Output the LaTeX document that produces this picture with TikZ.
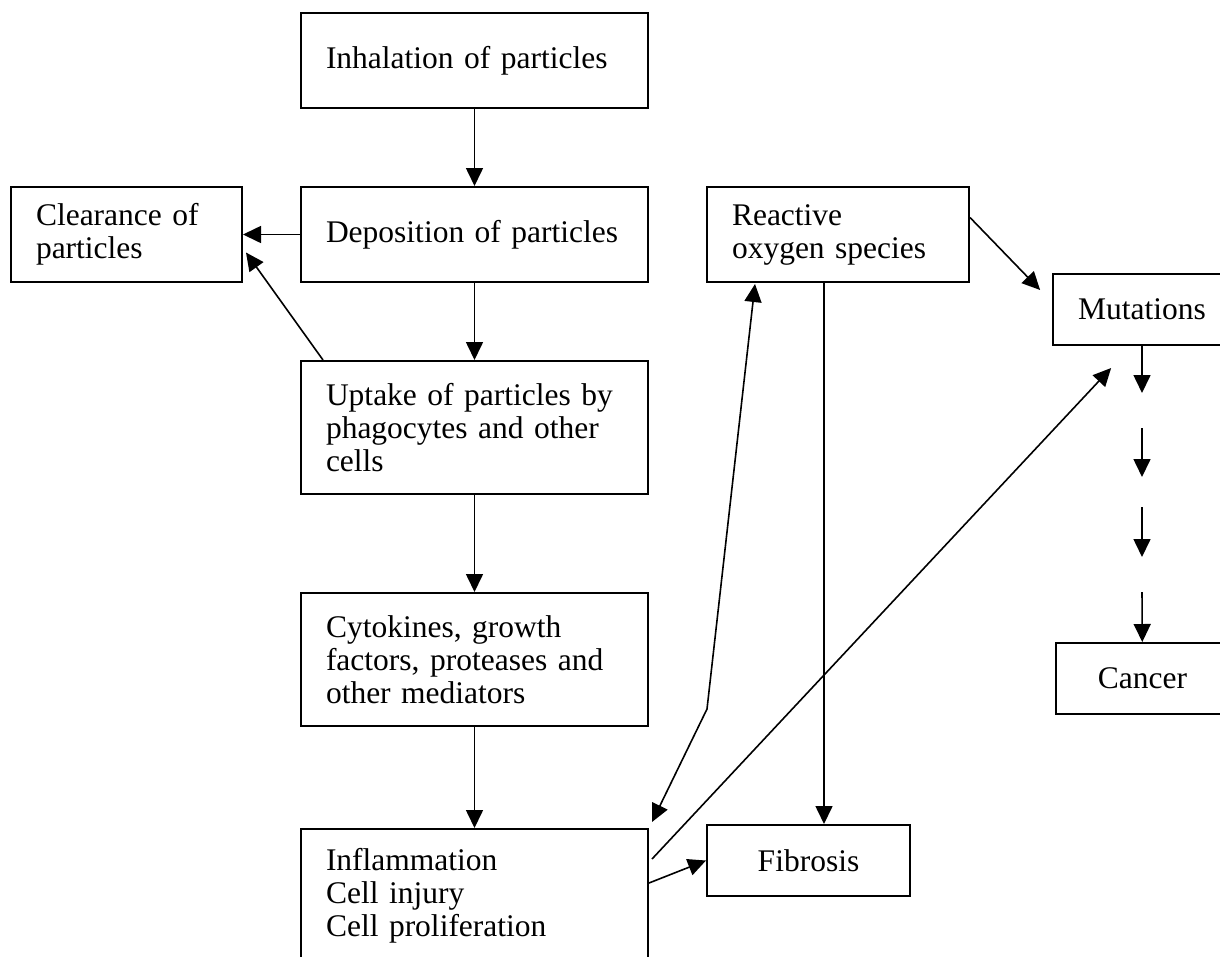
\documentclass[tikz,border=0pt]{standalone}
\usepackage{fontspec}
\setmainfont{Liberation Serif}
\usetikzlibrary{arrows.meta,calc}

\tikzset{
  box/.style={draw, line width=2pt, inner xsep=25pt, inner ysep=0pt,
    font=\fontsize{31.5}{33}\selectfont},
  lbox/.style={box, align=left},
  cbox/.style={box, align=center},
  arr/.style={line width=1.6pt, -{Triangle[length=18pt,width=17pt]}},
}

\begin{document}
\begin{tikzpicture}[x=1pt,y=-1pt]
  \useasboundingbox (0,0) rectangle (1220,956);

  % main column
  \node[lbox, text width=297pt, minimum height=95pt] (inh) at (474.5,60.5) {Inhalation of particles};
  \node[lbox, text width=297pt, minimum height=95pt] (dep) at (474.5,234.5) {Deposition of particles};
  \node[lbox, text width=297pt, minimum height=133pt] (upt) at (474.5,427.5) {Uptake of particles by\\phagocytes and other\\cells};
  \node[lbox, text width=297pt, minimum height=133pt] (cyt) at (474.5,659.5) {Cytokines, growth\\factors, proteases and\\other mediators};
  \node[lbox, text width=297pt, minimum height=133pt] (inf) at (474.5,895.5) {Inflammation\\Cell injury\\Cell proliferation};

  % side boxes
  \node[lbox, text width=181pt, minimum height=95pt] (clr) at (126.5,234.5) {Clearance of\\particles};
  \node[lbox, text width=212pt, minimum height=95pt] (ros) at (838,234.5) {Reactive\\oxygen species};
  \node[cbox, minimum width=174pt, minimum height=71pt] (mut) at (1142,309.5) {Mutations};
  \node[cbox, minimum width=203pt, minimum height=71pt] (fib) at (808.5,860.5) {Fibrosis};
  \node[cbox, minimum width=173pt, minimum height=71pt] (can) at (1142.5,678.5) {Cancer};

  % steps from mutations to cancer
  \coordinate (m1) at (1142,393);
  \coordinate (m2) at (1142,428);
  \coordinate (m3) at (1142,477);
  \coordinate (m4) at (1142,507);
  \coordinate (m5) at (1142,557);
  \coordinate (m6) at (1142,592);
  \coordinate (kink) at (707,709);

  \draw[arr] (inh) -- (dep);
  \draw[arr] (dep) -- (upt);
  \draw[arr] (upt) -- (cyt);
  \draw[arr] (cyt) -- (inf);
  \draw[arr] (dep.west) -- (clr.east);
  \draw[arr] ($(upt.north west)+(23,0)$) -- ($(clr.east)+(3,18)$);
  \draw[arr] ($(ros.east)+(0,-17)$) -- ($(mut.west)+(-12,-19.5)$);
  \draw[arr] ($(ros.south west)+(118,0)$) -- ($(fib.north west)+(118,0)$);
  \draw[line width=1.6pt, {Triangle[length=18pt,width=17pt]}-{Triangle[length=18pt,width=17pt]}]
    ($(inf.north east)+(3,-6)$) -- (kink) -- ($(ros.south west)+(49,1)$);
  \draw[arr] ($(inf.north east)+(3,31)$) -- ($(mut.south west)+(59,22)$);
  \draw[arr] ($(inf.north east)+(0,55)$) -- (fib.west);

  \draw[arr] (mut) -- (m1);
  \draw[arr] (m2) -- (m3);
  \draw[arr] (m4) -- (m5);
  \draw[arr] (m6) -- (can);
\end{tikzpicture}
\end{document}
